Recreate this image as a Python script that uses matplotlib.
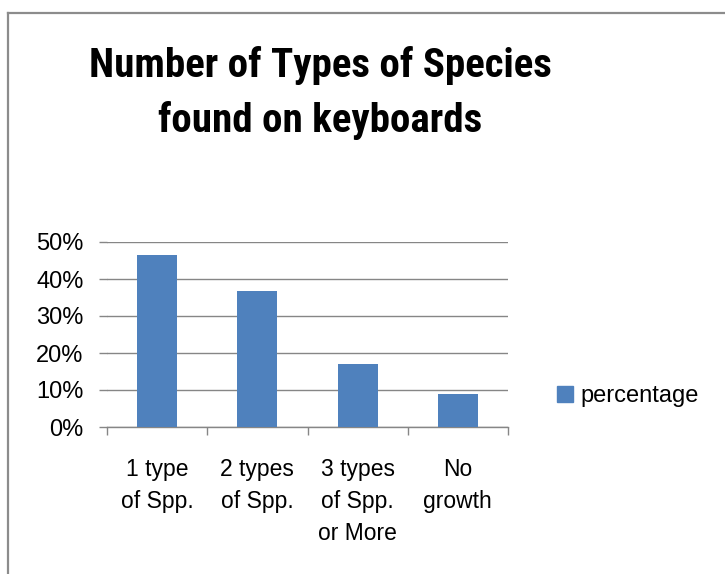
import matplotlib
matplotlib.use("Agg")
import matplotlib.pyplot as plt
from matplotlib.lines import Line2D
from matplotlib.ticker import FuncFormatter

categories = ["1 type\nof Spp.", "2 types\nof Spp.", "3 types\nof Spp.\nor More", "No\ngrowth"]
percentage = [46.5, 36.7, 17.0, 8.9]
y_ticks = [0, 10, 20, 30, 40, 50]

bar_color = "#4f81bd"
grid_color = "#868686"

plt.rcParams["font.family"] = ["Liberation Sans", "DejaVu Sans"]

fig = plt.figure(figsize=(7.25, 5.74), dpi=100)
ax = fig.add_axes([107 / 725, 147 / 574, 401 / 725, 185 / 574])

x = list(range(len(categories)))
ax.bar(x, percentage, width=0.4, color=bar_color, zorder=3, label="percentage")

ax.set_xlim(-0.5, len(categories) - 0.5)
ax.set_ylim(0, 50)
ax.set_yticks(y_ticks)
ax.yaxis.set_major_formatter(FuncFormatter(lambda v, p: f"{v:.0f}%"))
ax.grid(axis="y", color=grid_color, linewidth=1.0, zorder=0)

ax.set_xticks(x)
ax.set_xticklabels(categories, linespacing=1.52)
ax.set_xticks([i - 0.5 for i in range(len(categories) + 1)], minor=True)
ax.tick_params(axis="x", which="major", length=0, pad=22, labelsize=16.5)
ax.tick_params(axis="x", which="minor", length=6, color=grid_color, width=1)
ax.tick_params(axis="y", length=6, color=grid_color, width=1, pad=11, labelsize=17)

for s in ["top", "right", "left"]:
    ax.spines[s].set_visible(False)
ax.spines["bottom"].set_color(grid_color)
ax.spines["bottom"].set_linewidth(1)

fig.text(320 / 725, 1 - 93 / 574, "Number of Types of Species\nfound on keyboards",
         ha="center", va="center", fontsize=29.5, fontweight="bold",
         family=["Roboto Condensed", "Liberation Sans Narrow", "Arial Narrow", "Roboto"],
         linespacing=1.5)

leg = fig.legend(handles=[Line2D([], [], marker="s", linestyle="none", markersize=11,
                                 color=bar_color, label="percentage")],
                 loc="center left", bbox_to_anchor=(530 / 725, 1 - 396 / 574),
                 frameon=False, fontsize=17, handletextpad=0.05, handlelength=1.2)

# chart frame (cropped at right and bottom)
fig.add_artist(Line2D([8 / 725, 1], [1 - 13 / 574, 1 - 13 / 574], color="#8c8c8c", linewidth=1.6))
fig.add_artist(Line2D([8 / 725, 8 / 725], [0, 1 - 13 / 574], color="#8c8c8c", linewidth=1.6))

fig.savefig("out.png", dpi=100)
